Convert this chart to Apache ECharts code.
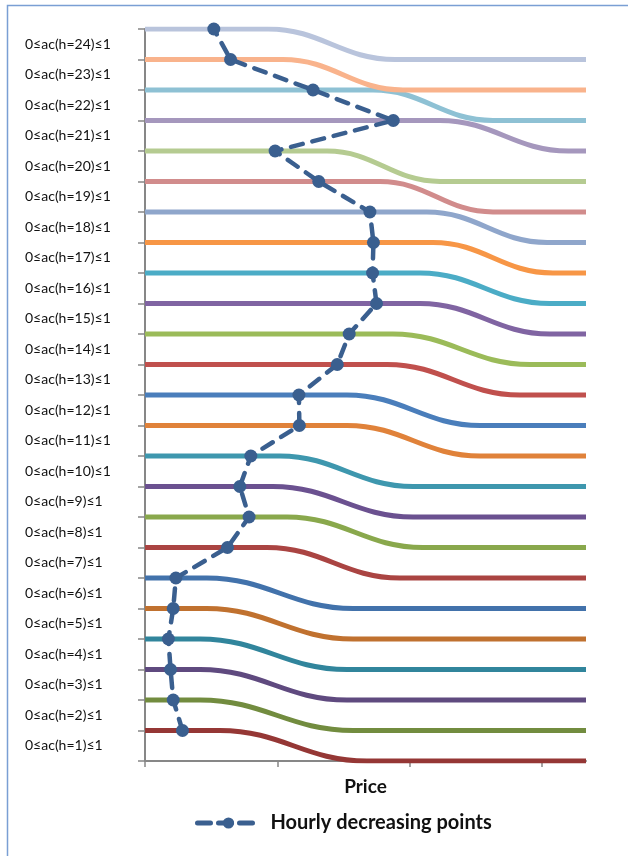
<!DOCTYPE html>
<html>
<head>
<meta charset="utf-8">
<title>Hourly decreasing points</title>
<script src="https://cdn.jsdelivr.net/npm/echarts@6/dist/echarts.min.js"></script>
<style>
    html, body { margin: 0; padding: 0; background: #fff; }
    #main { width: 628px; height: 856px; }
</style>
</head>
<body>
<div id="main"></div>
<script>
// hours, from bottom (h=1) to top (h=24)
var hours = [1, 2, 3, 4, 5, 6, 7, 8, 9, 10, 11, 12, 13, 14, 15, 16, 17, 18, 19, 20, 21, 22, 23, 24];
var hourLabels = ['0≤ac(h=1)≤1', '0≤ac(h=2)≤1', '0≤ac(h=3)≤1', '0≤ac(h=4)≤1', '0≤ac(h=5)≤1', '0≤ac(h=6)≤1',
    '0≤ac(h=7)≤1', '0≤ac(h=8)≤1', '0≤ac(h=9)≤1', '0≤ac(h=10)≤1', '0≤ac(h=11)≤1', '0≤ac(h=12)≤1',
    '0≤ac(h=13)≤1', '0≤ac(h=14)≤1', '0≤ac(h=15)≤1', '0≤ac(h=16)≤1', '0≤ac(h=17)≤1', '0≤ac(h=18)≤1',
    '0≤ac(h=19)≤1', '0≤ac(h=20)≤1', '0≤ac(h=21)≤1', '0≤ac(h=22)≤1', '0≤ac(h=23)≤1', '0≤ac(h=24)≤1'];
// price where each hour's curve starts to fall, and where it reaches the next level
var startPrice = [17, 12.5, 12.5, 12.5, 14, 14, 27.7, 32.2, 29, 30.6, 45.8, 45.8,
    54.9, 56.2, 62.4, 62.4, 65.3, 63.9, 53.3, 41.3, 66.9, 51.7, 31.3, 27.9];
var endPrice = [50.3, 47.2, 45.8, 45.8, 47.2, 47.2, 57.8, 63, 60.8, 60.8, 76, 76,
    85, 87.3, 91.8, 91.8, 92.5, 91.2, 78.9, 66.9, 96, 78.9, 58.5, 56.7];
// hourly decreasing points
var decreasePrice = [8.5, 6.4, 5.8, 5.3, 6.4, 7.0, 18.7, 23.6, 21.5, 24.0, 35.0, 34.9,
    43.6, 46.3, 52.5, 51.6, 51.8, 51.0, 39.4, 29.5, 56.3, 38.1, 19.4, 15.6];
var priceMin = 0, priceMax = 100;
var priceTicks = [0, 30, 60, 90];

var colors = ['#953735', '#728c3f', '#5f4a7f', '#31859c', '#c0712f', '#4272ab',
    '#aa4442', '#89a84c', '#6b5190', '#3e97ae', '#e0823a', '#4a7ebb',
    '#c0504d', '#9bbb59', '#8064a2', '#4bacc6', '#f79646', '#8fa6cb',
    '#d18c8c', '#b5cb91', '#a597bd', '#8ec1d4', '#f9b38c', '#b9c4dc'];
var dashColor = '#3a5f8f';

var myChart = echarts.init(document.getElementById('main'));

var series = [];
for (var i = 0; i < hours.length; i++) {
    var h = hours[i];
    series.push({
        name: hourLabels[i],
        type: 'line',
        data: [[priceMin, h], [startPrice[i], h], [endPrice[i], h - 1], [priceMax, h - 1]],
        smooth: 0.42,
        smoothMonotone: 'x',
        showSymbol: false,
        silent: true,
        lineStyle: {color: colors[i], width: 5},
        z: 2
    });
}
var pts = [];
for (var j = 0; j < hours.length; j++) {
    pts.push([decreasePrice[j], hours[j]]);
}
series.push({
    name: 'Hourly decreasing points',
    type: 'line',
    data: pts,
    symbol: 'circle',
    symbolSize: 13,
    showAllSymbol: true,
    itemStyle: {color: dashColor},
    lineStyle: {color: dashColor, width: 4.5, type: [12, 10], cap: 'round'},
    z: 5
});

myChart.setOption({
    animation: false,
    textStyle: {fontFamily: 'Lato, "DejaVu Sans", sans-serif'},
    graphic: [{
        type: 'rect',
        left: 5, top: 3,
        shape: {width: 700, height: 900},
        style: {fill: 'none', stroke: '#7a9fd4', lineWidth: 1.5},
        silent: true
    }],
    grid: {left: 145, right: 42, top: 29, bottom: 95},
    legend: {
        data: ['Hourly decreasing points'],
        left: 190,
        top: 808,
        itemWidth: 62,
        itemHeight: 14,
        lineStyle: {width: 5, type: [13, 8], cap: 'round', color: dashColor},
        textStyle: {fontSize: 20, fontWeight: 'bold', color: '#111', padding: [0, 0, 0, 6]}
    },
    xAxis: {
        type: 'value',
        min: priceMin,
        max: priceMax,
        name: 'Price',
        nameLocation: 'middle',
        nameGap: 16,
        nameTextStyle: {fontSize: 19, fontWeight: 'bold', color: '#111'},
        axisLine: {show: true, lineStyle: {color: '#878787', width: 2}},
        axisTick: {show: true, length: 6, customValues: priceTicks, lineStyle: {color: '#878787', width: 1.5}},
        axisLabel: {show: false},
        splitLine: {show: false}
    },
    yAxis: [{
        type: 'value',
        min: 0,
        max: 24,
        interval: 1,
        axisLine: {show: true, lineStyle: {color: '#878787', width: 2}},
        axisTick: {show: true, length: 7, lineStyle: {color: '#878787', width: 1.5}},
        axisLabel: {show: false},
        splitLine: {show: false}
    }, {
        type: 'category',
        position: 'left',
        data: hourLabels,
        boundaryGap: true,
        axisLine: {show: false},
        axisTick: {show: false},
        axisLabel: {margin: 120, align: 'left', fontSize: 14, color: '#111', interval: 0},
        splitLine: {show: false}
    }],
    series: series
});
</script>
</body>
</html>
